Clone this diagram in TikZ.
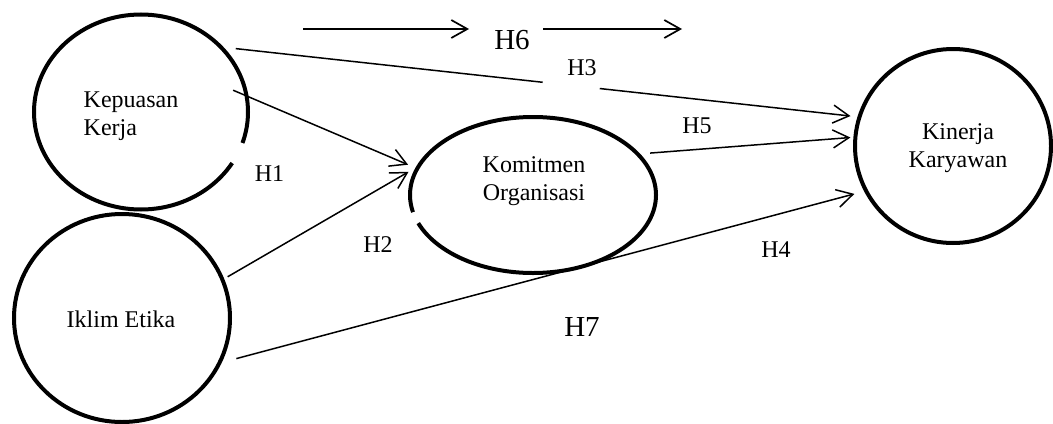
\documentclass[tikz,border=0pt]{standalone}
\usepackage{fontspec}
\setmainfont{Liberation Serif}
\usetikzlibrary{shapes.geometric,arrows.meta}

\begin{document}
\begin{tikzpicture}[x=0.5pt,y=-0.5pt,>={Straight Barb[length=8pt,width=9pt]}]
      \tikzstyle{var}=[ellipse,draw,line width=2pt,inner sep=0pt]
      \tikzstyle{txt}=[inner sep=0pt,font=\fontsize{12}{14}\selectfont]
      \tikzstyle{bigtxt}=[inner sep=0pt,font=\fontsize{14.5}{17}\selectfont]
      \tikzstyle{link}=[->,line width=0.75pt]
      \useasboundingbox (0,0) rectangle (1053,423);
      % variables
      \node[var,minimum width=107pt,minimum height=97.5pt,
        dash pattern={on 294.3pt off 11.3pt on 40pt}] at (141,112) (kk) {};
      \node[var,minimum width=108pt,minimum height=104pt] at (122,318) (ie) {};
      \node[var,minimum width=123pt,minimum height=78pt,
        dash pattern={on 168.6pt off 6.1pt on 200pt}] at (533,195) (ko) {};
      \node[var,minimum width=98pt,minimum height=97pt] at (953,146) (kar) {};
      \node[txt,align=left] at (131,116) (kkt) {Kepuasan\\Kerja};
      \node[txt] at (121,319) (iet) {Iklim Etika};
      \node[txt,align=center] at (534,181) (kot) {Komitmen\\Organisasi};
      \node[txt,align=center] at (958,148) (kart) {Kinerja\\Karyawan};
      % hypotheses
      \draw[link,shorten <=-8.5pt,shorten >=4pt] (kk.8) -- (ko.167);
      \draw[link,shorten <=2pt,shorten >=4pt] (ie.21) -- (ko.167);
      \draw[link,shorten <=6pt,shorten >=3.5pt,
        dash pattern={on 154.4pt off 28.7pt on 400pt}] (kk.38) -- (kar.163);
      \draw[link,shorten <=5pt,shorten >=1.5pt] (ko.21) -- (kar.175);
      \draw[link,shorten <=7.5pt,shorten >=5pt] (ie.-24) -- (kar.207);
      \coordinate (s1) at (303,29); \coordinate (e1) at (469,29);
      \coordinate (s2) at (543,29); \coordinate (e2) at (682,29);
      \foreach \a/\b in {s1/e1,s2/e2}
        \draw[->,line width=0.85pt] (\a) -- (\b);
      \node[txt] at (269.5,173.5) (h1) {H1};
      \node[txt] at (378,244.5) (h2) {H2};
      \node[txt] at (582,68) (h3) {H3};
      \node[txt] at (776,250) (h4) {H4};
      \node[txt] at (697,125.5) (h5) {H5};
      \node[bigtxt] at (512,40) (h6) {H6};
      \node[bigtxt] at (582,326.5) (h7) {H7};
    \end{tikzpicture}
\end{document}
